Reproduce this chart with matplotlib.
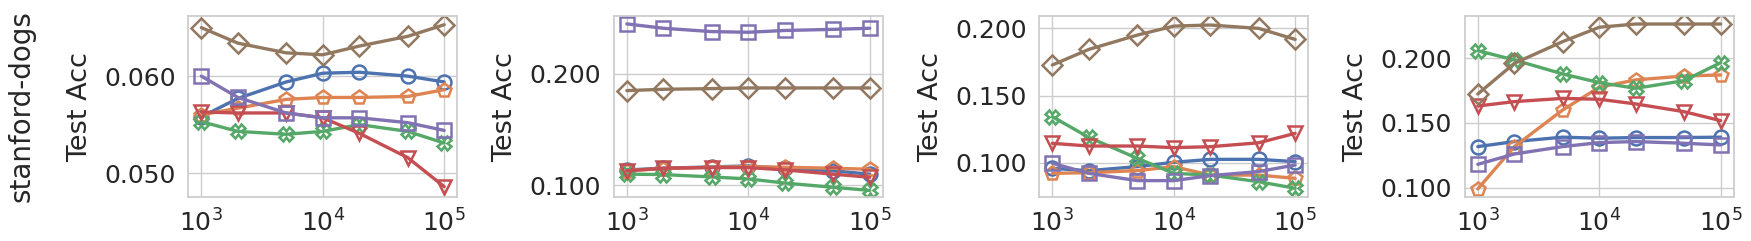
import numpy as np
import seaborn as sns
from matplotlib import pyplot as plt
from matplotlib.ticker import FormatStrFormatter

sns.set_theme(style="whitegrid")
plt.rcParams['font.family'] = ['DejaVu Sans']

# 样本数量
sizes = [1000, 2000, 5000, 10000, 20000, 50000, 100000]
dataset = "stanford-dogs"

# 每个子图六条曲线：blue(o), orange(p), green(X), red(v), purple(s), brown(D)
p1_blue = [0.0558, 0.0577, 0.0594, 0.0603, 0.0604, 0.0600, 0.0594]
p1_orange = [0.0560, 0.0567, 0.0576, 0.0578, 0.0578, 0.0579, 0.0586]
p1_green = [0.0553, 0.0543, 0.0540, 0.0543, 0.0550, 0.0543, 0.0531]
p1_red = [0.0563, 0.0562, 0.0562, 0.0557, 0.0541, 0.0516, 0.0486]
p1_purple = [0.0600, 0.0578, 0.0562, 0.0557, 0.0557, 0.0552, 0.0544]
p1_brown = [0.0650, 0.0634, 0.0624, 0.0622, 0.0631, 0.0641, 0.0653]

p2_blue = [0.1138, 0.1153, 0.1165, 0.1174, 0.1153, 0.1130, 0.1100]
p2_orange = [0.1130, 0.1150, 0.1162, 0.1168, 0.1162, 0.1153, 0.1144]
p2_green = [0.1100, 0.1096, 0.1075, 0.1057, 0.1020, 0.0982, 0.0954]
p2_red = [0.1130, 0.1153, 0.1159, 0.1159, 0.1138, 0.1100, 0.1072]
p2_purple = [0.2449, 0.2410, 0.2380, 0.2374, 0.2390, 0.2400, 0.2410]
p2_brown = [0.1850, 0.1862, 0.1868, 0.1874, 0.1874, 0.1874, 0.1874]

p3_blue = [0.0960, 0.0943, 0.0973, 0.1005, 0.1027, 0.1027, 0.1010]
p3_orange = [0.0923, 0.0928, 0.0943, 0.0973, 0.0910, 0.0910, 0.0886]
p3_green = [0.1344, 0.1190, 0.1035, 0.0923, 0.0910, 0.0861, 0.0812]
p3_red = [0.1146, 0.1126, 0.1126, 0.1114, 0.1121, 0.1150, 0.1220]
p3_purple = [0.0998, 0.0923, 0.0869, 0.0869, 0.0906, 0.0936, 0.0985]
p3_brown = [0.1728, 0.1844, 0.1950, 0.2017, 0.2025, 0.2000, 0.1918]

p4_blue = [0.1317, 0.1356, 0.1390, 0.1382, 0.1387, 0.1387, 0.1390]
p4_orange = [0.0990, 0.1317, 0.1600, 0.1776, 0.1833, 0.1863, 0.1871]
p4_green = [0.2059, 0.1987, 0.1879, 0.1812, 0.1768, 0.1827, 0.1966]
p4_red = [0.1631, 0.1665, 0.1690, 0.1683, 0.1647, 0.1587, 0.1518]
p4_purple = [0.1180, 0.1260, 0.1317, 0.1348, 0.1356, 0.1343, 0.1330]
p4_brown = [0.1724, 0.1961, 0.2129, 0.2240, 0.2265, 0.2265, 0.2265]

panels = [
    [p1_blue, p1_orange, p1_green, p1_red, p1_purple, p1_brown],
    [p2_blue, p2_orange, p2_green, p2_red, p2_purple, p2_brown],
    [p3_blue, p3_orange, p3_green, p3_red, p3_purple, p3_brown],
    [p4_blue, p4_orange, p4_green, p4_red, p4_purple, p4_brown],
]
ylims = [(0.0475, 0.0662), (0.0892, 0.252), (0.0745, 0.2092), (0.0925, 0.2327)]
yticks = [[0.050, 0.060], [0.100, 0.200], [0.100, 0.150, 0.200], [0.100, 0.150, 0.200]]

colors = sns.color_palette("deep")[:6]
markers = ['o', 'p', 'X', 'v', 's', 'D']

fig = plt.figure(figsize=(17.51, 2.41), dpi=100)
for i, series in enumerate(panels):
    ax = fig.add_axes([0.1075 + i * 0.243, 0.1813, 0.1536, 0.7523])
    for vals, c, m in zip(series, colors, markers):
        ax.plot(sizes, vals, color=c, marker=m, markersize=10,
                markerfacecolor='none', markeredgecolor=c, markeredgewidth=1.8,
                linewidth=2.4)
    ax.set_xscale('log')
    ax.set_xlim(780, 128000)
    ax.set_xticks([1e3, 1e4, 1e5])
    ax.minorticks_off()
    ax.set_ylim(*ylims[i])
    ax.set_yticks(yticks[i])
    ax.yaxis.set_major_formatter(FormatStrFormatter('%.3f'))
    ax.tick_params(axis='both', labelsize=18, pad=3)
    ax.set_ylabel("Test Acc", fontsize=19.5, labelpad=8)

fig.text(0.0124, 0.56, dataset, rotation=90, fontsize=20, ha='center', va='center')

fig.savefig("out.png", dpi=100)
